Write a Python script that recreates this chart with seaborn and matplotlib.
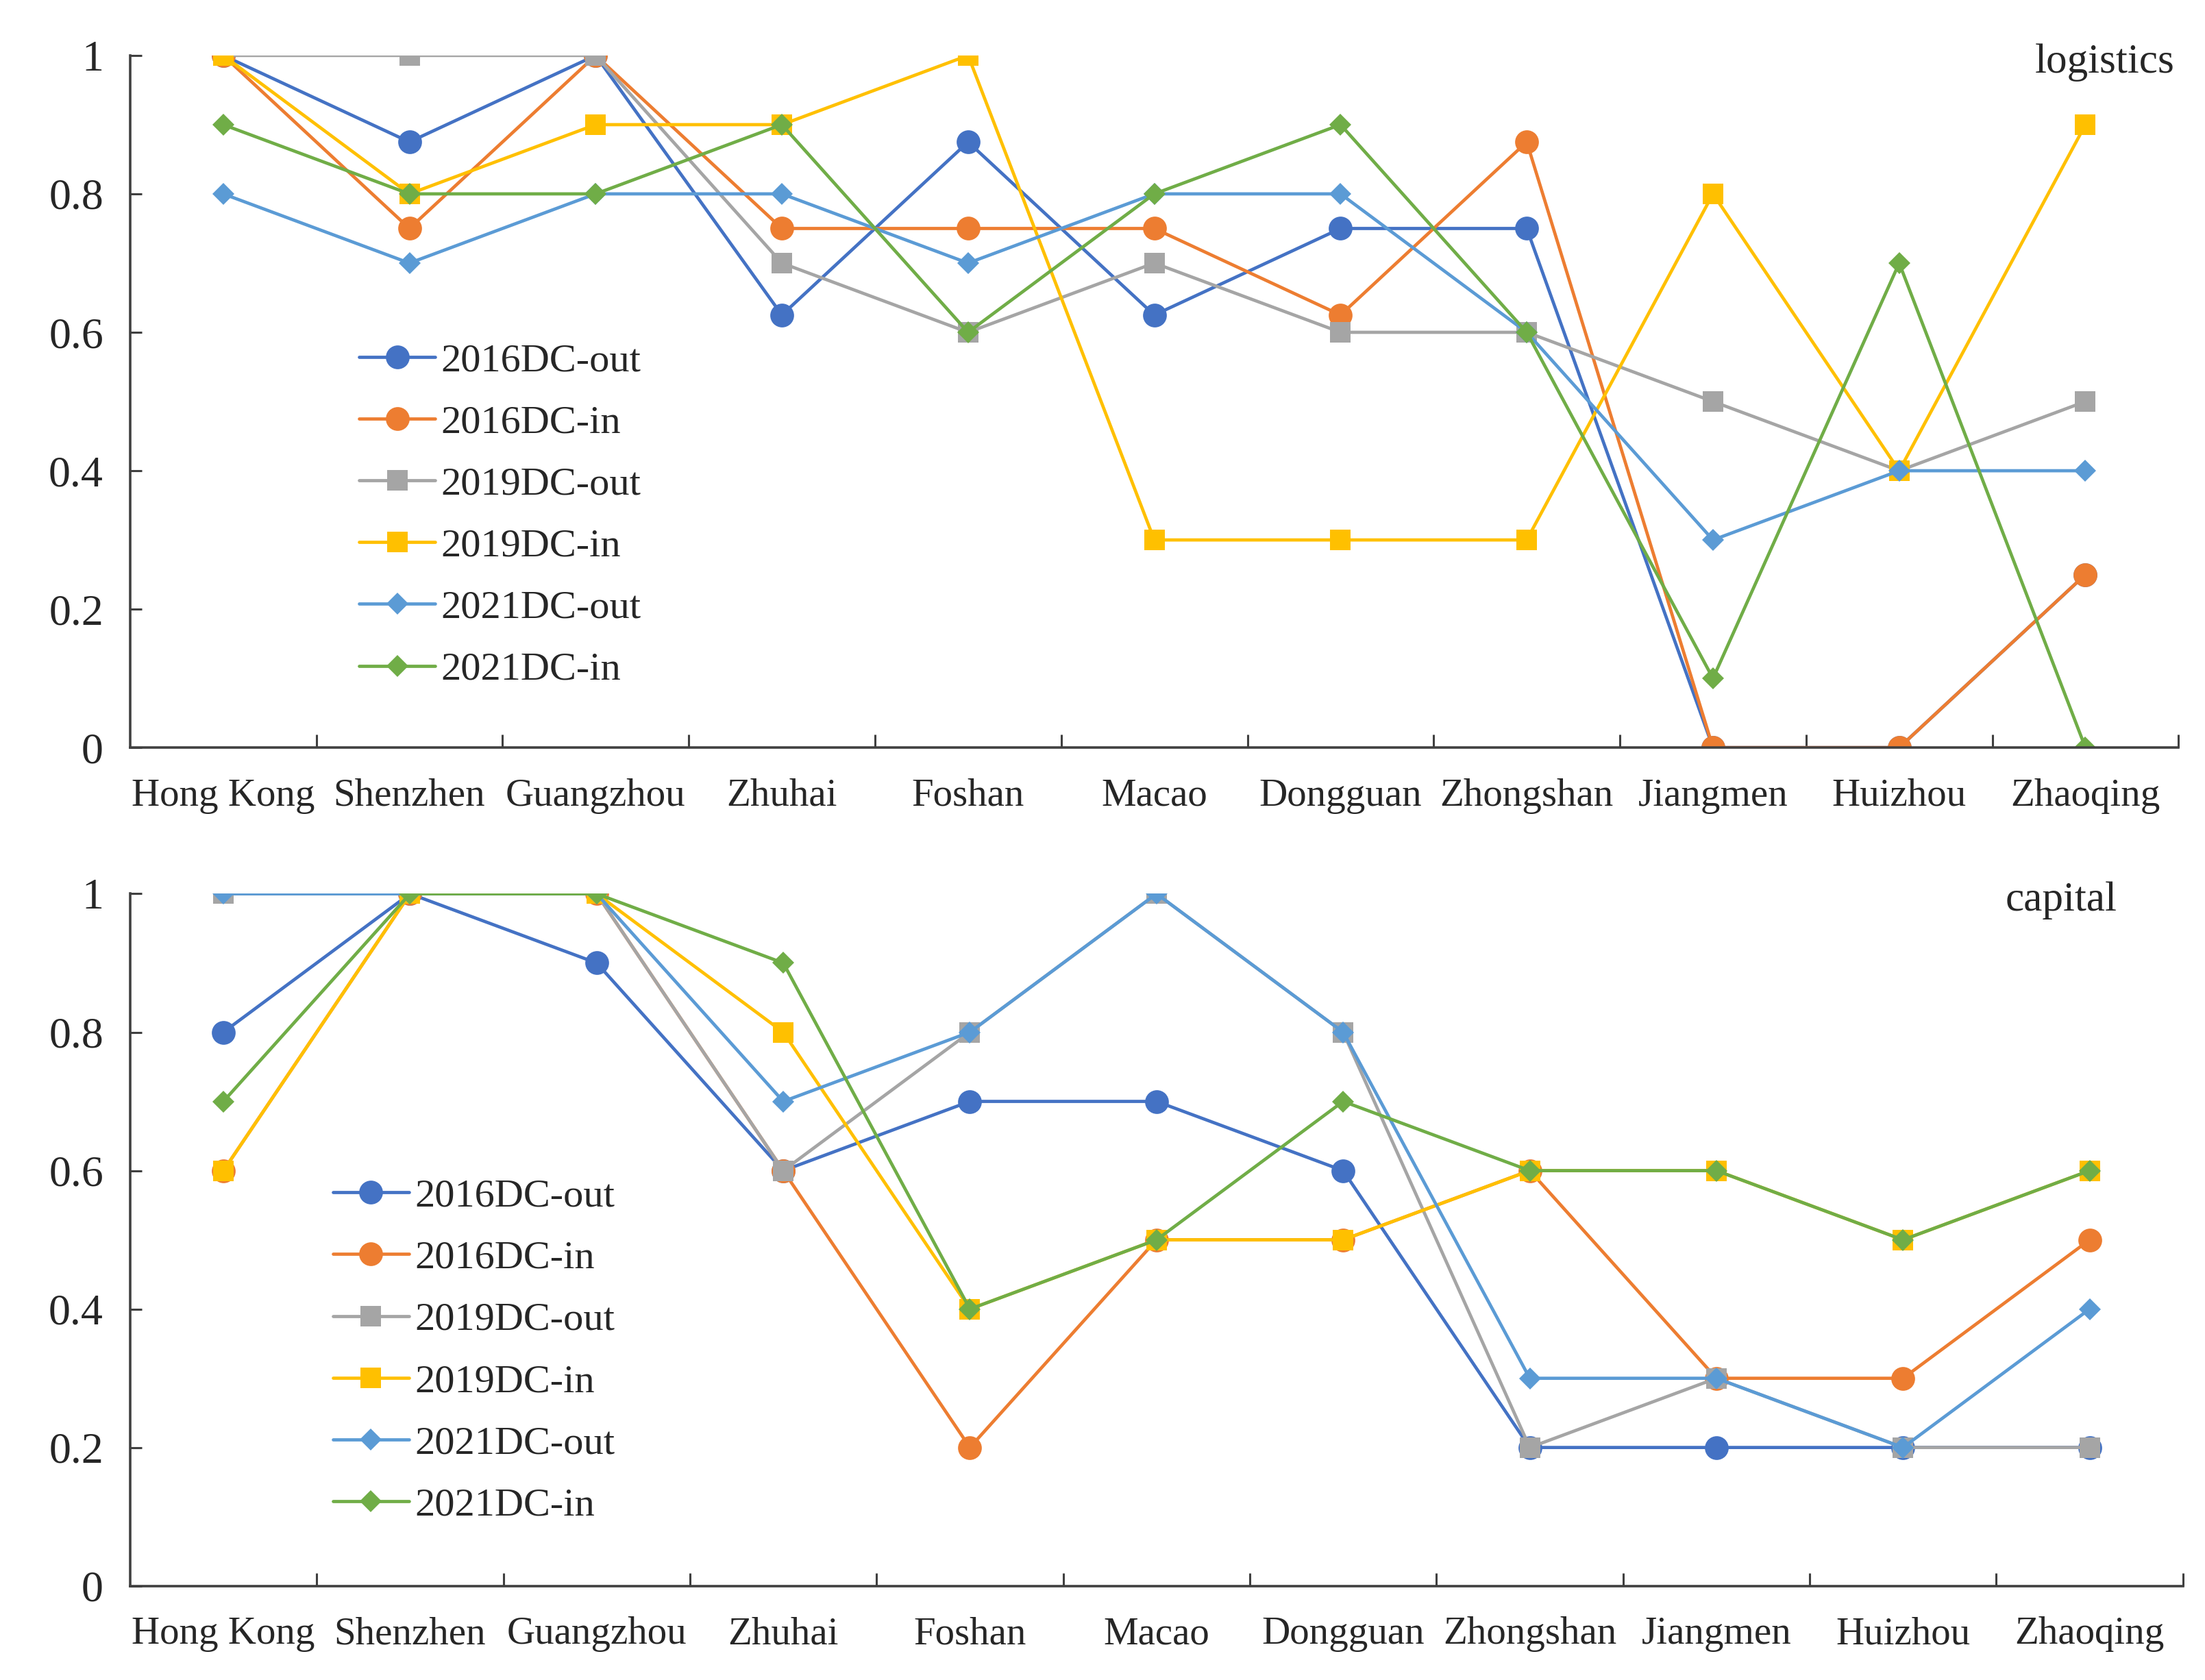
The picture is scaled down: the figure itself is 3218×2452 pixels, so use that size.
import numpy as np
import pandas as pd
import matplotlib
matplotlib.use("Agg")
import matplotlib.pyplot as plt
import seaborn as sns

cities = ["Hong Kong", "Shenzhen", "Guangzhou", "Zhuhai", "Foshan", "Macao",
          "Dongguan", "Zhongshan", "Jiangmen", "Huizhou", "Zhaoqing"]
series_names = ["2016DC-out", "2016DC-in", "2019DC-out", "2019DC-in", "2021DC-out", "2021DC-in"]

# logistics panel
log_2016_out = [1, 0.875, 1, 0.625, 0.875, 0.625, 0.75, 0.75, 0, 0, 0.25]
log_2016_in = [1, 0.75, 1, 0.75, 0.75, 0.75, 0.625, 0.875, 0, 0, 0.25]
log_2019_out = [1, 1, 1, 0.7, 0.6, 0.7, 0.6, 0.6, 0.5, 0.4, 0.5]
log_2019_in = [1, 0.8, 0.9, 0.9, 1, 0.3, 0.3, 0.3, 0.8, 0.4, 0.9]
log_2021_out = [0.8, 0.7, 0.8, 0.8, 0.7, 0.8, 0.8, 0.6, 0.3, 0.4, 0.4]
log_2021_in = [0.9, 0.8, 0.8, 0.9, 0.6, 0.8, 0.9, 0.6, 0.1, 0.7, 0]

# capital panel
cap_2016_out = [0.8, 1, 0.9, 0.6, 0.7, 0.7, 0.6, 0.2, 0.2, 0.2, 0.2]
cap_2016_in = [0.6, 1, 1, 0.6, 0.2, 0.5, 0.5, 0.6, 0.3, 0.3, 0.5]
cap_2019_out = [1, 1, 1, 0.6, 0.8, 1, 0.8, 0.2, 0.3, 0.2, 0.2]
cap_2019_in = [0.6, 1, 1, 0.8, 0.4, 0.5, 0.5, 0.6, 0.6, 0.5, 0.6]
cap_2021_out = [1, 1, 1, 0.7, 0.8, 1, 0.8, 0.3, 0.3, 0.2, 0.4]
cap_2021_in = [0.7, 1, 1, 0.9, 0.4, 0.5, 0.7, 0.6, 0.6, 0.5, 0.6]

logistics = [log_2016_out, log_2016_in, log_2019_out, log_2019_in, log_2021_out, log_2021_in]
capital = [cap_2016_out, cap_2016_in, cap_2019_out, cap_2019_in, cap_2021_out, cap_2021_in]

colors = ["#4472C4", "#ED7D31", "#A5A5A5", "#FFC000", "#5B9BD5", "#70AD47"]
markers = ["o", "o", "s", "s", "D", "D"]
msizes = [12.5, 12.5, 11, 11, 8, 8]

sns.set_theme(style="white")
plt.rcParams["font.family"] = ["Liberation Serif", "DejaVu Serif"]
plt.rcParams["axes.edgecolor"] = "#404040"

fig = plt.figure(figsize=(16.09, 12.26), dpi=200)
ax_top = fig.add_axes([0.059, 0.555, 0.929, 0.412])
ax_bot = fig.add_axes([0.059, 0.056, 0.931, 0.412])

x = np.arange(len(cities))


def draw_panel(ax, data, title, title_x, leg_x, leg_y):
    for name, vals, c, m, ms in zip(series_names, data, colors, markers, msizes):
        df = pd.DataFrame({"x": x, "y": vals})
        sns.lineplot(data=df, x="x", y="y", ax=ax, color=c, marker=m,
                     markersize=ms, markeredgewidth=0, linewidth=1.7,
                     label=name)
    ax.set_xlim(-0.5, len(cities) - 0.5)
    ax.set_ylim(0, 1)
    ax.set_yticks([0, 0.2, 0.4, 0.6, 0.8, 1])
    ax.set_yticklabels(["0", "0.2", "0.4", "0.6", "0.8", "1"])
    ax.set_xticks(x)
    ax.set_xticklabels(cities)
    ax.set_xticks(np.arange(0.5, len(cities), 1), minor=True)
    ax.tick_params(axis="x", which="major", length=0, pad=16, labelsize=20.5)
    ax.tick_params(axis="x", which="minor", direction="in", length=7,
                   width=1.1, color="#404040", bottom=True)
    ax.tick_params(axis="y", which="major", direction="in", length=6,
                   width=1.1, color="#404040", left=True, pad=14, labelsize=23)
    ax.set_xlabel("")
    ax.set_ylabel("")
    for s in ["top", "right"]:
        ax.spines[s].set_visible(False)
    for s in ["left", "bottom"]:
        ax.spines[s].set_linewidth(1.3)
    ax.text(title_x, 0.99, title, transform=ax.transAxes, ha="right",
            va="center", fontsize=22)
    ax.legend(loc="upper left", bbox_to_anchor=(leg_x, leg_y), frameon=False,
              fontsize=21, handlelength=1.9, handletextpad=0.15,
              labelspacing=0.64, borderaxespad=0)


draw_panel(ax_top, logistics, "logistics", 0.998, 0.104, 0.608)
draw_panel(ax_bot, capital, "capital", 0.968, 0.091, 0.612)

fig.savefig("out.png", dpi=200, facecolor="white")
